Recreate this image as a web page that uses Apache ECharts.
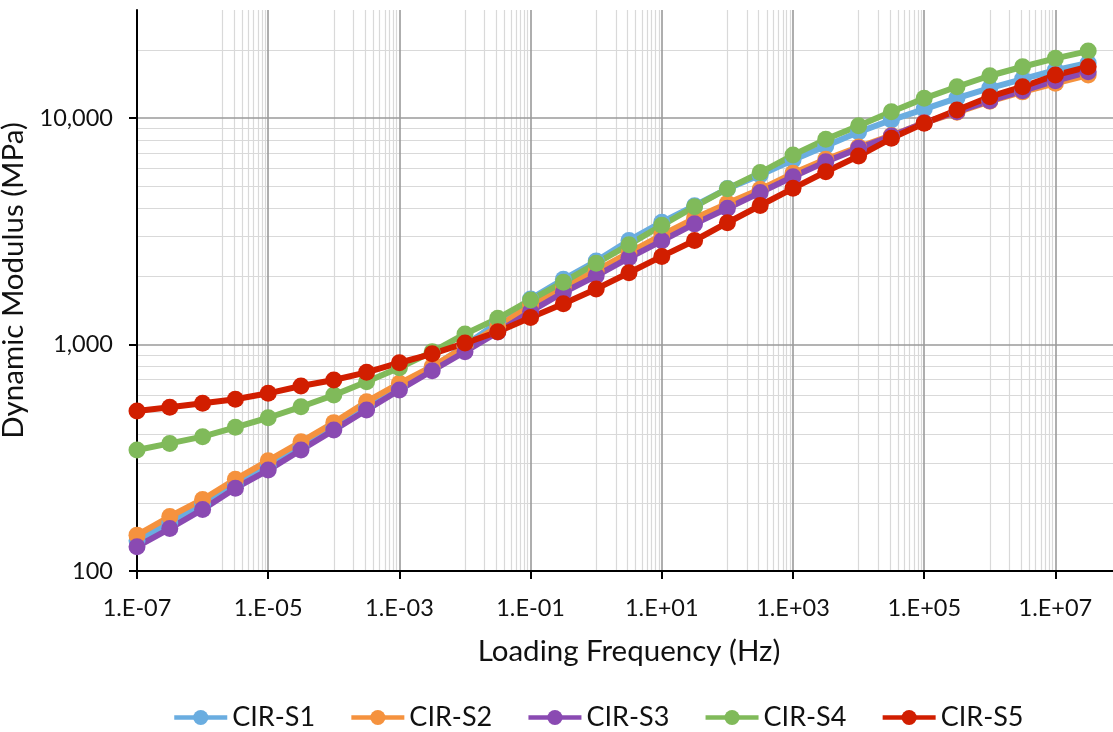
<!DOCTYPE html>
<html>
<head>
<meta charset="utf-8">
<script src="https://cdn.jsdelivr.net/npm/echarts@6/dist/echarts.min.js"></script>
<style>
  html, body { margin: 0; padding: 0; background: #ffffff; }
  #chart { width: 1113px; height: 732px; }
</style>
</head>
<body>
<div id="chart"></div>
<script>
// Loading frequency (Hz), half-decade steps
const frequency = [
  1.0e-7, 3.16e-7, 1.0e-6, 3.16e-6, 1.0e-5, 3.16e-5, 1.0e-4, 3.16e-4, 1.0e-3, 3.16e-3,
  1.0e-2, 3.16e-2, 1.0e-1, 3.16e-1, 1.0e0, 3.16e0, 1.0e1, 3.16e1, 1.0e2, 3.16e2,
  1.0e3, 3.16e3, 1.0e4, 3.16e4, 1.0e5, 3.16e5, 1.0e6, 3.16e6, 1.0e7, 3.16e7
];

// Dynamic modulus master curves (MPa)
const cirS1 = [136, 163, 197, 240, 290, 353, 433, 530, 648, 790,
  990, 1250, 1590, 1941, 2337, 2880, 3470, 4100, 4880, 5600,
  6526, 7522, 8672, 9799, 10958, 12253, 13570, 14867, 16288, 17497];
const cirS2 = [144, 174, 207, 254, 307, 372, 452, 559, 674, 800,
  978, 1198, 1494, 1800, 2118, 2543, 3044, 3607, 4201, 4845,
  5700, 6572, 7450, 8380, 9530, 10600, 11850, 13050, 14230, 15480];
const cirS3 = [128, 154, 187, 232, 279, 342, 419, 514, 630, 766,
  929, 1135, 1400, 1697, 2010, 2415, 2870, 3410, 3994, 4690,
  5506, 6414, 7348, 8326, 9535, 10662, 11922, 13199, 14612, 16010];
const cirS4 = [342, 366, 392, 431, 475, 531, 598, 685, 790, 929,
  1113, 1305, 1573, 1885, 2283, 2760, 3360, 4060, 4877, 5745,
  6865, 8054, 9249, 10662, 12218, 13747, 15377, 16846, 18346, 19760];
const cirS5 = [509, 528, 550, 573, 609, 656, 697, 754, 831, 910,
  1015, 1139, 1315, 1515, 1760, 2075, 2450, 2880, 3450, 4110,
  4894, 5794, 6795, 8136, 9476, 10850, 12420, 13750, 15480, 16850];

const seriesNames = ['CIR-S1', 'CIR-S2', 'CIR-S3', 'CIR-S4', 'CIR-S5'];
const seriesValues = [cirS1, cirS2, cirS3, cirS4, cirS5];
const seriesColors = ['#6aade0', '#f5923e', '#8a4ab2', '#80ba5a', '#d11e00'];

// Axis ticks and their labels
const xTickValues = [1e-7, 1e-5, 1e-3, 1e-1, 1e1, 1e3, 1e5, 1e7];
const xTickLabels = ['1.E-07', '1.E-05', '1.E-03', '1.E-01', '1.E+01', '1.E+03', '1.E+05', '1.E+07'];
const yTickValues = [100, 1000, 10000];
const yTickLabels = ['100', '1,000', '10,000'];

// Axis ranges
const xMin = 1e-7, xMax = 1e8;
const yMin = 100, yMax = 30000;
const minorGridStart = 2e-6;

// Both axes are decade-scaled: positions are log10 of the value
const lg = Math.log10;
const xTickPos = xTickValues.map(lg);
const yTickPos = yTickValues.map(lg);

function labelFor(pos, tickPos, labels) {
  for (let i = 0; i < tickPos.length; i++) {
    if (Math.abs(tickPos[i] - pos) < 1e-6) return labels[i];
  }
  return '';
}

// Minor gridlines: 1..9 steps of the decade following each labelled tick
const xMinorPos = [];
xTickPos.forEach(function (p) {
  for (let k = 1; k <= 9; k++) {
    const pos = p + 1 + lg(k);
    if (pos >= lg(minorGridStart) - 1e-9 && pos < lg(xMax) - 1e-9) xMinorPos.push(pos);
  }
});
const yMinorPos = [];
yTickPos.forEach(function (p) {
  for (let k = 2; k <= 9; k++) {
    const pos = p + lg(k);
    if (pos <= lg(yMax) + 1e-9) yMinorPos.push(pos);
  }
});

const FONT = 'Lato, "Open Sans", sans-serif';
const TEXT_COLOR = '#111111';

const dataSeries = seriesNames.map(function (name, s) {
  return {
    name: name,
    type: 'line',
    z: 2,
    data: frequency.map(function (f, i) { return [lg(f), lg(seriesValues[s][i])]; }),
    symbol: 'circle',
    symbolSize: 17,
    showAllSymbol: true,
    color: seriesColors[s],
    lineStyle: { width: 6, color: seriesColors[s] },
    itemStyle: { color: seriesColors[s], borderWidth: 0 },
    emphasis: { disabled: true }
  };
});

const minorGrid = {
  type: 'line',
  name: 'minor-grid',
  data: [],
  z: 0,
  silent: true,
  markLine: {
    z: 0,
    silent: true,
    animation: false,
    precision: 12,
    symbol: ['none', 'none'],
    label: { show: false },
    emphasis: { disabled: true },
    lineStyle: { color: '#d9d9d9', width: 1.2, type: 'solid' },
    data: xMinorPos.map(function (v) { return { xAxis: v }; })
      .concat(yMinorPos.map(function (v) { return { yAxis: v }; }))
  }
};

const chart = echarts.init(document.getElementById('chart'), null, { renderer: 'canvas' });

chart.setOption({
  animation: false,
  backgroundColor: '#ffffff',
  textStyle: { fontFamily: FONT },
  grid: {
    left: 137,
    top: 10,
    right: -8,
    bottom: 161,
    containLabel: false,
    outerBoundsMode: 'none'
  },
  legend: {
    data: seriesNames,
    left: 167,
    top: 699,
    itemWidth: 53,
    itemHeight: 19,
    itemGap: 34,
    itemStyle: { borderWidth: 0 },
    lineStyle: { width: 4.5 },
    textStyle: { fontSize: 27, color: TEXT_COLOR, fontFamily: FONT }
  },
  xAxis: {
    type: 'value',
    z: 1,
    min: lg(xMin),
    max: lg(xMax),
    interval: 2,
    name: 'Loading Frequency (Hz)',
    nameLocation: 'middle',
    nameGap: 65,
    nameTextStyle: { fontSize: 29.5, color: TEXT_COLOR, fontFamily: FONT },
    axisLine: { show: true, onZero: false, lineStyle: { color: '#000000', width: 2 } },
    axisTick: { show: true, inside: false, length: 8, customValues: xTickPos, lineStyle: { color: '#000000', width: 2 } },
    axisLabel: {
      show: true,
      margin: 25,
      fontSize: 23.5,
      color: TEXT_COLOR,
      fontFamily: FONT,
      customValues: xTickPos,
      formatter: function (v) { return labelFor(v, xTickPos, xTickLabels); }
    },
    splitLine: { show: true, lineStyle: { color: '#9a9a9a', width: 1.6 } },
    minorTick: { show: false },
    minorSplitLine: { show: false }
  },
  yAxis: {
    type: 'value',
    z: 1,
    min: lg(yMin),
    max: lg(yMax),
    interval: 1,
    name: 'Dynamic Modulus (MPa)',
    nameLocation: 'middle',
    nameGap: 90,
    nameTextStyle: { fontSize: 29.5, color: TEXT_COLOR, fontFamily: FONT, padding: [0, 0, 0, 20] },
    axisLine: { show: true, onZero: false, lineStyle: { color: '#000000', width: 2 } },
    axisTick: { show: true, inside: false, length: 8, customValues: yTickPos, lineStyle: { color: '#000000', width: 2 } },
    axisLabel: {
      show: true,
      margin: 24,
      fontSize: 23.5,
      color: TEXT_COLOR,
      fontFamily: FONT,
      customValues: yTickPos,
      formatter: function (v) { return labelFor(v, yTickPos, yTickLabels); }
    },
    splitLine: { show: true, lineStyle: { color: ['#9a9a9a', '#9a9a9a', '#9a9a9a', '#d9d9d9'], width: 1.6 } },
    minorTick: { show: false },
    minorSplitLine: { show: false }
  },
  series: [minorGrid].concat(dataSeries)
});
</script>
</body>
</html>
